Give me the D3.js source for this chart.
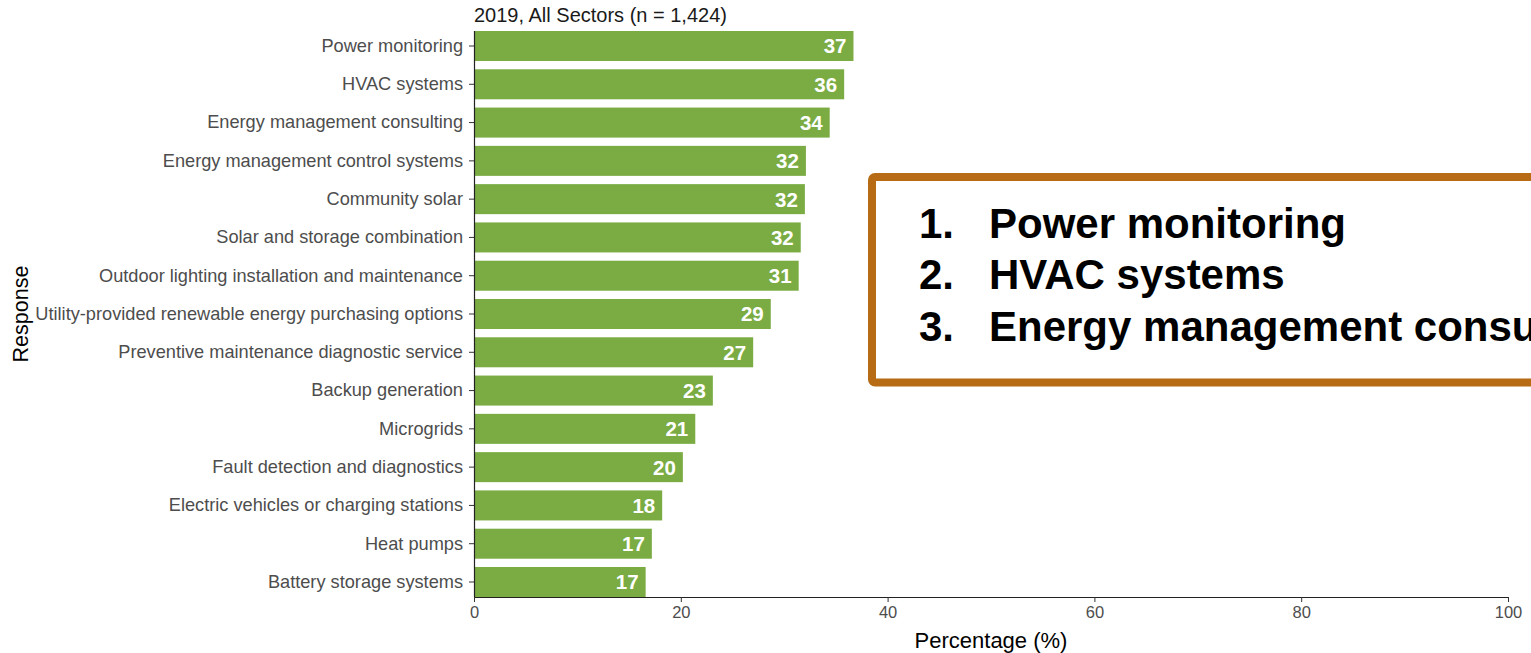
<!DOCTYPE html>
<html>
<head>
<meta charset="utf-8">
<script src="https://cdn.jsdelivr.net/npm/d3@7"></script>
<style>
  html, body { margin: 0; padding: 0; background: #fff; }
  svg { display: block; font-family: "Liberation Sans", Arial, Helvetica, sans-serif; }
</style>
</head>
<body>
<svg id="chart" width="1531" height="653"></svg>
<script>
// Share of respondents interested in each energy service, 2019, all sectors
const responses = [
  "Power monitoring",
  "HVAC systems",
  "Energy management consulting",
  "Energy management control systems",
  "Community solar",
  "Solar and storage combination",
  "Outdoor lighting installation and maintenance",
  "Utility-provided renewable energy purchasing options",
  "Preventive maintenance diagnostic service",
  "Backup generation",
  "Microgrids",
  "Fault detection and diagnostics",
  "Electric vehicles or charging stations",
  "Heat pumps",
  "Battery storage systems"
];
const percentages = [36.7, 35.8, 34.4, 32.1, 32.0, 31.6, 31.4, 28.7, 27.0, 23.1, 21.4, 20.2, 18.2, 17.2, 16.6];
const xTicks = [0, 20, 40, 60, 80, 100];
const topResponses = ["Power monitoring", "HVAC systems", "Energy management consulting"];

const title = "2019, All Sectors (n = 1,424)";
const xTitle = "Percentage (%)";
const yTitle = "Response";

const rows = responses.map((r, i) => ({ response: r, value: percentages[i] }));

const svg = d3.select("#chart");
const plot = { left: 474, right: 1508, top: 31, bottom: 597 };

const x = d3.scaleLinear().domain([0, 100]).range([plot.left, plot.right]);
const y = d3.scaleBand()
  .domain(responses)
  .range([plot.top, plot.bottom])
  .paddingInner(0.216)
  .paddingOuter(0);

// bars
svg.append("g")
  .selectAll("rect")
  .data(rows)
  .join("rect")
  .attr("x", x(0))
  .attr("y", d => y(d.response))
  .attr("width", d => x(d.value) - x(0))
  .attr("height", y.bandwidth())
  .attr("fill", "#7aac43");

// value labels inside bar ends
svg.append("g")
  .selectAll("text")
  .data(rows)
  .join("text")
  .attr("x", d => x(d.value) - 7)
  .attr("y", d => y(d.response) + y.bandwidth() / 2)
  .attr("dy", "0.36em")
  .attr("text-anchor", "end")
  .attr("fill", "#ffffff")
  .attr("font-weight", "bold")
  .attr("font-size", 20.5)
  .text(d => d3.format(".0f")(d.value));

// y axis
const yAxis = svg.append("g")
  .attr("transform", `translate(${plot.left},0)`)
  .call(d3.axisLeft(y).tickSize(5).tickPadding(6));
yAxis.select(".domain").attr("stroke", "#222").attr("stroke-width", 1.2)
  .attr("d", `M0.5,${plot.top}V${plot.bottom}`);
yAxis.selectAll(".tick line").attr("stroke", "#333");
yAxis.selectAll(".tick text").attr("fill", "#4d4d4d").attr("font-size", 18.2)
  .attr("font-family", "'Liberation Sans', Arial, sans-serif");

// x axis
const xAxis = svg.append("g")
  .attr("transform", `translate(0,${plot.bottom})`)
  .call(d3.axisBottom(x).tickValues(xTicks).tickSize(5).tickPadding(4));
xAxis.select(".domain").attr("stroke", "#222").attr("stroke-width", 1.2)
  .attr("d", `M${plot.left},0.5H${plot.right}`);
xAxis.selectAll(".tick line").attr("stroke", "#333");
xAxis.selectAll(".tick text").attr("fill", "#4d4d4d").attr("font-size", 16.5)
  .attr("font-family", "'Liberation Sans', Arial, sans-serif");

// titles
svg.append("text")
  .attr("x", plot.left)
  .attr("y", 22)
  .attr("fill", "#1a1a1a")
  .attr("font-size", 20)
  .text(title);

svg.append("text")
  .attr("x", (plot.left + plot.right) / 2)
  .attr("y", 648)
  .attr("text-anchor", "middle")
  .attr("fill", "#000")
  .attr("font-size", 22)
  .text(xTitle);

svg.append("text")
  .attr("transform", `translate(28,${(plot.top + plot.bottom) / 2}) rotate(-90)`)
  .attr("text-anchor", "middle")
  .attr("fill", "#000")
  .attr("font-size", 21.5)
  .text(yTitle);

// callout listing the three most common responses
const box = svg.append("g");
box.append("rect")
  .attr("x", 872)
  .attr("y", 177)
  .attr("width", 800)
  .attr("height", 205.5)
  .attr("rx", 3)
  .attr("fill", "#fff")
  .attr("stroke", "#b76b14")
  .attr("stroke-width", 8);

const lines = box.selectAll("g.item")
  .data(topResponses)
  .join("g")
  .attr("class", "item")
  .attr("transform", (d, i) => `translate(0,${238 + i * 51.3})`);
lines.append("text")
  .attr("x", 919)
  .attr("font-size", 42)
  .attr("font-weight", "bold")
  .attr("fill", "#000")
  .text((d, i) => `${i + 1}.`);
lines.append("text")
  .attr("x", 989)
  .attr("font-size", 42)
  .attr("font-weight", "bold")
  .attr("fill", "#000")
  .text(d => d);
</script>
</body>
</html>
